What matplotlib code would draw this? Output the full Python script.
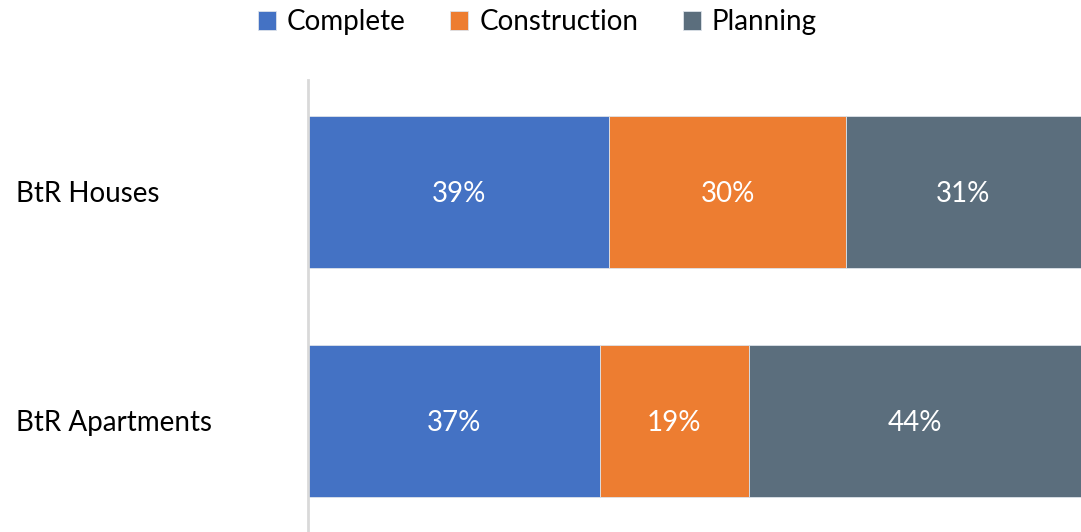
import matplotlib
matplotlib.use("Agg")
import matplotlib.pyplot as plt
import numpy as np

plt.rcParams['font.family'] = ['Lato', 'DejaVu Sans']

categories = ["BtR Houses", "BtR Apartments"]
series_names = ["Complete", "Construction", "Planning"]
complete = [39.0, 37.8]
construction = [30.6, 19.2]
planning = [30.4, 43.0]
value_labels = [["39%", "37%"], ["30%", "19%"], ["31%", "44%"]]
colors = ["#4472C4", "#ED7D31", "#5B6E7D"]

fig = plt.figure(figsize=(10.81, 5.32), dpi=100)
ax = fig.add_axes([308/1081, 1 - 535.5/532, 1 - 308/1081, (535.5 - 77.5)/532])

y = np.arange(len(categories))
left = np.zeros(len(categories))
for name, vals, col, labs in zip(series_names, [complete, construction, planning], colors, value_labels):
    bars = ax.barh(y, vals, left=left, height=0.664, color=col, edgecolor="#DDE3EA",
                   linewidth=0.6, label=name)
    for b, lab in zip(bars, labs):
        ax.text(b.get_x() + b.get_width() / 2, b.get_y() + b.get_height() / 2 + 0.01, lab,
                ha="center", va="center", color="white", fontsize=20)
    left += np.array(vals)

ax.set_xlim(0, 100)
ax.set_ylim(1.5, -0.5)
ax.set_yticks(y)
ax.set_yticklabels(categories, fontsize=20, ha="left")
ax.tick_params(axis="y", length=0, pad=(308 - 16) * 0.72)
ax.set_xticks([])
for s in ["top", "right", "bottom"]:
    ax.spines[s].set_visible(False)
ax.spines["left"].set_color("#D9D9D9")
ax.spines["left"].set_linewidth(2)
ax.spines["left"].set_bounds(1.5, -0.5 + (80 - 77.5) / 229)

fig.legend(loc="upper center", bbox_to_anchor=(0.497, 1.03), ncol=3, frameon=False,
           fontsize=20, handlelength=0.65, handleheight=0.65, handletextpad=0.4,
           columnspacing=1.6)

fig.savefig("out.png", dpi=100)
